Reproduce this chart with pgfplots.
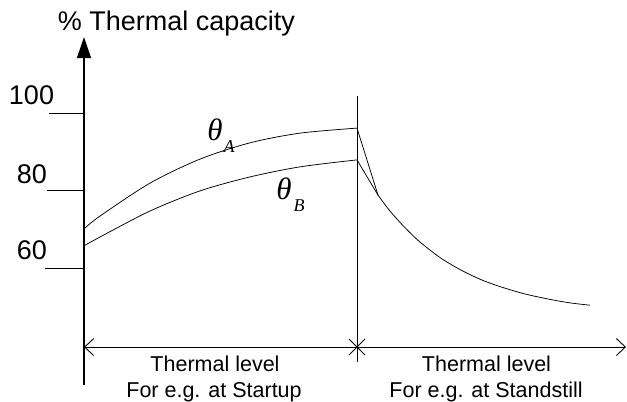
\documentclass[border=0pt]{standalone}
\usepackage{pgfplots}
\pgfplotsset{compat=1.18}
\usetikzlibrary{arrows.meta}
\usepackage{fontspec}
\setmainfont{Liberation Sans}
\newfontfamily\tnr{Liberation Serif}
\begin{document}
\begin{tikzpicture}
\begin{axis}[width=627bp,height=402bp,scale only axis,hide axis,
  xmin=0,xmax=627,ymin=25.42,ymax=129.16,clip=false]
\path (axis cs:0,25.42) rectangle (axis cs:627,129.16);
% curves
\addplot[black,line width=0.75bp,smooth] coordinates {(84,70.1)(100,73.4)(150,81.9)(200,88.1)(250,92.3)(300,94.8)(357,96.1)};
\addplot[black,line width=0.75bp,smooth] coordinates {(84,65.7)(100,68.0)(150,74.7)(200,79.9)(250,83.5)(300,86.1)(357,87.9)};
\addplot[black,line width=0.75bp] coordinates {(357,96.1)(378,78.8)};
\addplot[black,line width=0.75bp] coordinates {(357,87.9)(378,78.8)};
\addplot[black,line width=0.75bp,smooth] coordinates {(378,78.8)(390,74.7)(405,70.4)(420,66.7)(440,62.7)(460,59.6)(480,57.1)(500,55.2)(525,53.3)(550,51.9)(570,51.0)(590,50.4)};
% y axis
\draw[black,line width=1.1bp,-{Triangle[length=21bp,width=14bp]}] (axis cs:84,29.8) -- (axis cs:84,119.6);
\draw[black,line width=0.9bp] (axis cs:49,100) -- (axis cs:84,100);
\draw[black,line width=0.9bp] (axis cs:47,80) -- (axis cs:84,80);
\draw[black,line width=0.9bp] (axis cs:45,60) -- (axis cs:84,60);
\node[anchor=base,font=\fontsize{27bp}{30bp}\selectfont,inner sep=0pt] at (axis cs:31.5,102.1) {100};
\node[anchor=base,font=\fontsize{27bp}{30bp}\selectfont,inner sep=0pt] at (axis cs:32,81.9) {80};
\node[anchor=base,font=\fontsize{27bp}{30bp}\selectfont,inner sep=0pt] at (axis cs:32,62.1) {60};
\node[anchor=base,font=\fontsize{27bp}{30bp}\selectfont,inner sep=0pt] at (axis cs:176.5,121.4) {\% Thermal capacity};
% divider
\draw[black,line width=1bp] (axis cs:357,104.3) -- (axis cs:357,35.7);
\draw[black,line width=0.9bp,{Straight Barb[length=9bp,width=17bp]}-{Straight Barb[length=9bp,width=17bp]}] (axis cs:84,39.6) -- (axis cs:626,39.6);
\draw[black,line width=0.9bp] (axis cs:349,41.66) -- (axis cs:365,37.54);
\draw[black,line width=0.9bp] (axis cs:349,37.54) -- (axis cs:365,41.66);
% bottom labels
\node[anchor=base,font=\fontsize{21.5bp}{26bp}\selectfont,inner sep=0pt] at (axis cs:215,33.2) {Thermal level};
\node[anchor=base,font=\fontsize{21.5bp}{26bp}\selectfont,inner sep=0pt] at (axis cs:214,26.7) {For e.g. at Startup};
\node[anchor=base,font=\fontsize{21.5bp}{26bp}\selectfont,inner sep=0pt] at (axis cs:486.5,33.2) {Thermal level};
\node[anchor=base,font=\fontsize{21.5bp}{26bp}\selectfont,inner sep=0pt] at (axis cs:486,26.7) {For e.g. at Standstill};
% theta labels
\node[font=\tnr\itshape\fontsize{31bp}{34bp}\selectfont,inner sep=0pt] at (axis cs:215,95.6) {θ};
\node[font=\tnr\itshape\fontsize{18bp}{20bp}\selectfont,inner sep=0pt] at (axis cs:229,91.3) {A};
\node[font=\tnr\itshape\fontsize{31bp}{34bp}\selectfont,inner sep=0pt] at (axis cs:284,80.4) {θ};
\node[font=\tnr\itshape\fontsize{18bp}{20bp}\selectfont,inner sep=0pt] at (axis cs:299,76.1) {B};
\end{axis}
\end{tikzpicture}
\end{document}
